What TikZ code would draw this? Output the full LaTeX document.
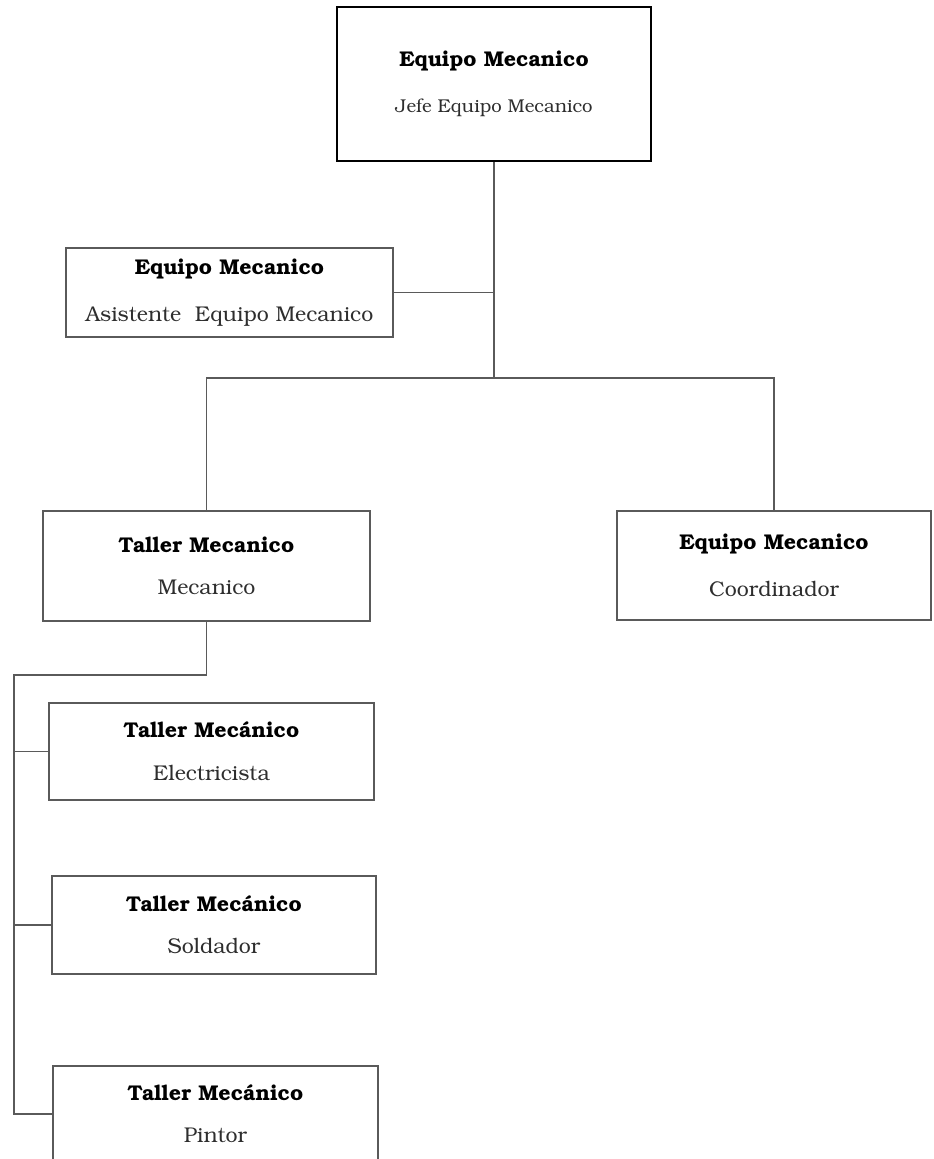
\documentclass[tikz,border=0pt]{standalone}
\usepackage[T1]{fontenc}
\usepackage{bookman}
\definecolor{linegray}{HTML}{5A5A5A}
\definecolor{subtext}{HTML}{2E2E2E}
\tikzset{
  unit/.style={draw=linegray, line width=1.1pt, fill=white, align=center, inner sep=0pt},
  headunit/.style={unit, draw=black, line width=2.2pt},
  link/.style={draw=linegray, line width=1pt},
}
% box text: bold unit name over a lighter job title
\newcommand{\unitlabel}[3][16pt]{%
  {\fontsize{16}{19}\selectfont\bfseries #2}\\[20pt]%
  {\fontsize{#1}{19}\selectfont\color{subtext}#3}}
\begin{document}
\begin{tikzpicture}[x=0.75pt,y=-0.75pt]
\useasboundingbox (0,0) rectangle (933,1159);

\node[headunit, minimum width=235.5pt, minimum height=115.5pt] (jefe) at (494,84)
  {\unitlabel[13.9pt]{Equipo Mecanico}{Jefe Equipo Mecanico}};
\node[unit, minimum width=245.25pt, minimum height=66.75pt] (asist) at (229.5,292.5)
  {\unitlabel{Equipo Mecanico}{Asistente\ \ Equipo Mecanico}};
\node[unit, minimum width=245.25pt, minimum height=82.5pt] (mec) at (206.5,566)
  {\unitlabel{Taller Mecanico}{Mecanico}};
\node[unit, minimum width=235.5pt, minimum height=81.75pt] (coord) at (774,565.5)
  {\unitlabel{Equipo Mecanico}{Coordinador}};
\node[unit, minimum width=243.75pt, minimum height=72.75pt] (elec) at (211.5,751.5)
  {\unitlabel{Taller Mecánico}{Electricista}};
\node[unit, minimum width=243pt, minimum height=73.5pt] (sold) at (214,925)
  {\unitlabel{Taller Mecánico}{Soldador}};
\node[unit, minimum width=243.75pt, minimum height=72pt] (pint) at (215.5,1114)
  {\unitlabel{Taller Mecánico}{Pintor}};

% junction points of the tree
\coordinate (split) at (jefe.south |- 0,378);
\coordinate (drop) at (mec.south |- 0,675);
\coordinate (rail) at (14,675);

\draw[link] (jefe.south) -- (split);
\draw[link] (asist.east) -- (asist.east -| jefe.south);
\draw[link] (mec.north) |- (split) -| (coord.north);
\draw[link] (mec.south) -- (drop) -- (rail) |- (pint.west);
\draw[link] (rail |- elec.west) -- (elec.west);
\draw[link] (rail |- sold.west) -- (sold.west);
\end{tikzpicture}
\end{document}
